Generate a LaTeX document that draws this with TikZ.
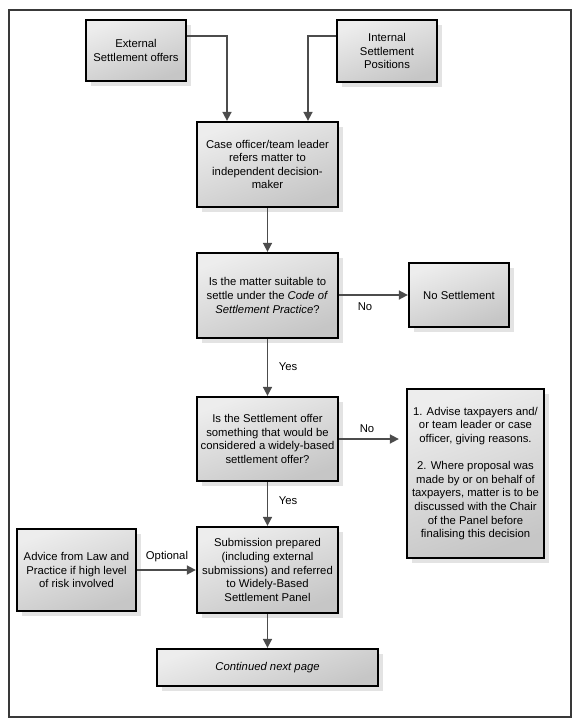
\documentclass[tikz,border=0pt]{standalone}
\usepackage{fontspec}
\setmainfont{Liberation Sans}
\usetikzlibrary{arrows.meta,shadows,calc}
\tikzset{
  box/.style={draw=black, line width=2.3pt, align=center, inner sep=2pt,
    top color=gray!14, bottom color=gray!45, shading angle=20,
    font=\fontsize{11.3}{13.6}\selectfont,
    drop shadow={opacity=0.22, shadow xshift=5pt, shadow yshift=-5pt, fill=gray}},
  conn/.style={draw=gray!60!black, line width=1.7pt,
    -{Triangle[width=9pt,length=9pt]}},
  lbl/.style={font=\fontsize{11.3}{13.6}\selectfont, inner sep=0pt}
}
\begin{document}
\begin{tikzpicture}[x=1pt,y=1pt]
\useasboundingbox (0,0) rectangle (580,-726);
\draw[draw=gray!45!black, line width=1.4pt] (9,-10) rectangle (571,-717);

\node[box, minimum width=100pt, minimum height=61pt] (ext) at (136,-50.5) {External\\Settlement offers};
\node[box, minimum width=100pt, minimum height=62pt] (int) at (387,-51) {Internal\\Settlement\\Positions};
\node[box, minimum width=141pt, minimum height=85pt] (case) at (267.5,-164.5) {Case officer/team leader\\refers matter to\\independent decision-\\maker};
\node[box, minimum width=141pt, minimum height=85pt] (suit) at (267.5,-295.5) {Is the matter suitable to\\settle under the \textit{Code of}\\\textit{Settlement Practice}?};
\node[box, minimum width=100pt, minimum height=64pt] (noset) at (459,-295) {No Settlement};
\node[box, minimum width=141pt, minimum height=84pt] (wide) at (267.5,-439) {Is the Settlement offer\\something that would be\\considered a widely-based\\settlement offer?};
\node[box, minimum width=137pt, minimum height=169pt] (adv) at (475.5,-473.5) {1. Advise taxpayers and/\\or team leader or case\\officer, giving reasons.\\[13.6pt]2. Where proposal was\\made by or on behalf of\\taxpayers, matter is to be\\discussed with the Chair\\of the Panel before\\finalising this decision};
\node[box, minimum width=119pt, minimum height=82pt] (advice) at (76.5,-570) {Advice from Law and\\Practice if high level\\of risk involved};
\node[box, minimum width=141pt, minimum height=86pt] (sub) at (267.5,-570) {Submission prepared\\(including external\\submissions) and referred\\to Widely-Based\\Settlement Panel};
\node[box, minimum width=221pt, minimum height=37pt] (cont) at (267.5,-667.5) {\textit{Continued next page}};

\coordinate (e1) at (227,-36);
\coordinate (i1) at (308,-36);
\draw[conn] (ext.east |- e1) -- (e1) -- (case.north -| e1);
\draw[conn] (int.west |- i1) -- (i1) -- (case.north -| i1);
\draw[conn] (case) -- (suit);
\draw[conn] (suit.east |- noset.west) -- (noset.west);
\draw[conn] (suit) -- (wide);
\draw[conn, shorten >=7pt] (wide.east) -- (adv.west |- wide.east);
\draw[conn] (wide) -- (sub);
\draw[conn] (advice) -- (sub);
\draw[conn] (sub) -- (cont);

\node[lbl] (l1) at (365,-307) {No};
\node[lbl] (l2) at (367,-429) {No};
\node[lbl] (l3) at (288,-367) {Yes};
\node[lbl] (l4) at (288,-501) {Yes};
\node[lbl] (l5) at (167,-557) {Optional};
\end{tikzpicture}
\end{document}
